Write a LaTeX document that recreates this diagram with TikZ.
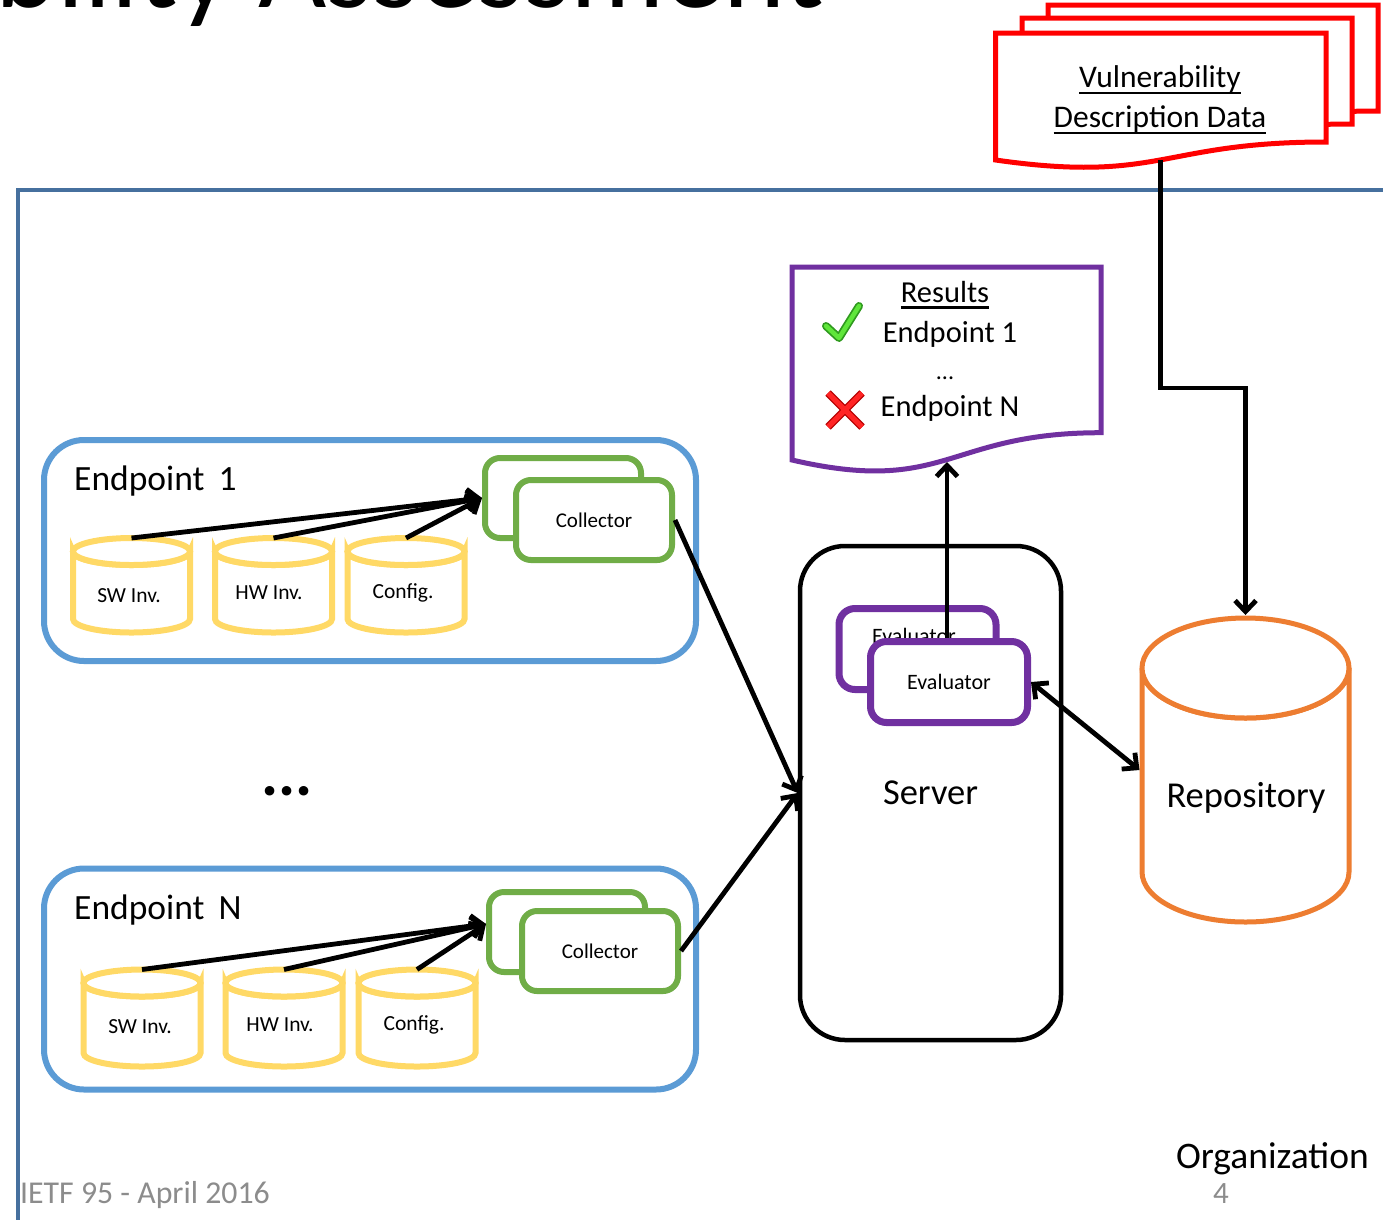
\documentclass[tikz,border=0pt]{standalone}
\usepackage{fontspec}
\setmainfont{Carlito}
\usetikzlibrary{arrows.meta}

\definecolor{epblue}{HTML}{5B9BD5}
\definecolor{collgreen}{HTML}{70AD47}
\definecolor{dbyellow}{HTML}{FFD966}
\definecolor{repoorange}{HTML}{ED7D31}
\definecolor{evpurple}{HTML}{7030A0}
\definecolor{orgframe}{HTML}{46709E}
\definecolor{footgray}{HTML}{8C8C8C}
\definecolor{okgreen}{HTML}{5FE63A}
\definecolor{okdark}{HTML}{2F9A1E}
\definecolor{badred}{HTML}{FF2424}
\definecolor{baddark}{HTML}{B40000}

% underlined label with a rule that scales with the picture
\newcommand\ulin[1]{\setbox0\hbox{#1}\rlap{\rule[-6pt]{\wd0}{2.2pt}}\box0}

% cylinder: name, cx, y of top ellipse, y of bottom ellipse, rx, ry, style
\newcommand\drum[7]{%
  \path[#7] (#2-#5,#3) -- (#2-#5,#4)
    arc[start angle=180,end angle=0,x radius=#5,y radius=#6]
    -- (#2+#5,#3)
    arc[start angle=0,end angle=180,x radius=#5,y radius=#6] -- cycle;
  \path[#7] (#2,#3) ellipse[x radius=#5,y radius=#6];
  \coordinate (#1) at (#2,#3-#6);
}

\tikzset{
  conn/.style={draw=black, line width=4.8pt},
  >={Straight Barb[length=11pt,width=21pt]},
  epbox/.style={draw=epblue, line width=6pt, rounded corners=40pt,
    minimum width=652pt, minimum height=221pt, inner sep=0pt},
  eplabel/.style={anchor=base west, inner sep=0pt, font=\fontsize{35.5}{40}\selectfont},
  collbox/.style={draw=collgreen, fill=white, line width=6pt, rounded corners=15pt,
    minimum width=156pt, minimum height=80pt, inner sep=0pt,
    font=\fontsize{21}{25}\selectfont},
  evbox/.style={draw=evpurple, fill=white, line width=7pt, rounded corners=16pt,
    minimum width=157pt, minimum height=81pt, inner sep=0pt,
    font=\fontsize{22}{25}\selectfont},
  dbline/.style={draw=dbyellow, fill=white, line width=6pt},
  dbtext/.style={font=\fontsize{21.5}{24}\selectfont},
  docline/.style={line width=5pt, fill=white, line join=miter},
  bigtext/.style={font=\fontsize{36.5}{42}\selectfont},
  doctext/.style={font=\fontsize{30.5}{36}\selectfont},
}

\begin{document}
\begin{tikzpicture}[x=1pt,y=-1pt]
\path[use as bounding box, clip] (0,0) rectangle (1383,1219);
\fill[white] (0,0) rectangle (1383,1219);

% heading, cut by the top edge
\node[anchor=base east, inner sep=0pt, font=\fontsize{118}{130}\selectfont] (heading) at (824,7) {Vulnerability Assessment};

% organization frame
\draw[orgframe, line width=4pt] (18,1230) -- (18,190) -- (1395,190);

% vulnerability description data (stack of documents)
\path[docline, draw=red] (1048,5) -- (1378,5) -- (1378,111) .. controls (1213,111) and (1213,151) .. (1048,128) -- cycle;
\path[docline, draw=red] (1022,18) -- (1352,18) -- (1352,124) .. controls (1187,124) and (1187,164) .. (1022,141) -- cycle;
\path[docline, draw=red] (995.5,33) -- (1326,33) -- (1326,142) .. controls (1160.75,142) and (1160.75,183.6) .. (995.5,160) -- cycle;
\node[doctext, font=\fontsize{31.5}{36}\selectfont] (vddA) at (1160,80) {\ulin{Vulnerability}};
\node[doctext, font=\fontsize{31.5}{36}\selectfont] (vddB) at (1160,120) {\ulin{Description Data}};
\coordinate (vddbot) at (1160.75,160);

% results document
\path[docline, draw=evpurple] (792,267) -- (1101,267) -- (1101,432.7) .. controls (946.5,432.7) and (946.5,495.7) .. (792,460) -- cycle;
\coordinate (resbot) at (946.5,462);
\node[doctext] (resT) at (945,295) {\ulin{Results}};
\node[doctext] (res1) at (950,334) {Endpoint 1};
\node[doctext, font=\fontsize{24}{28}\selectfont] (resdots) at (945,378) {...};
\node[doctext] (resN) at (950,408) {Endpoint N};
% check mark and cross
\draw[okdark, line width=8pt, line cap=round, line join=round] (826,326) -- (839,338) -- (859,306);
\draw[okgreen, line width=4.5pt, line cap=round, line join=round] (826,326) -- (839,338) -- (859,306);
\draw[baddark, line width=7.5pt] (828,393) -- (862,427) (862,393) -- (828,427);
\draw[badred, line width=5pt] (828,393) -- (862,427) (862,393) -- (828,427);

% endpoints
\node[epbox] (ep1) at (370,550.5) {};
\node[eplabel] (ep1lbl) at (74,490) {Endpoint\hspace{0.4em}1};
\node[epbox] (epN) at (370,979) {};
\node[eplabel] (epNlbl) at (74,919) {Endpoint\hspace{0.4em}N};

\node[font=\bfseries\fontsize{64}{70}\selectfont] (gap) at (287,791) {...};

% endpoint 1 data stores and collector
\drum{sw1}{131.5}{551.5}{619}{58.5}{13.5}{dbline}
\drum{hw1}{273.5}{551.5}{619}{58.5}{13.5}{dbline}
\drum{cf1}{406}{551.5}{619}{58.5}{13.5}{dbline}
\node[dbtext] (sw1t) at (129,596) {SW Inv.};
\node[dbtext] (hw1t) at (269,593) {HW Inv.};
\node[dbtext] (cf1t) at (403,593) {Config.};
\node[collbox] (c1b) at (563,498) {};
\node[collbox] (c1) at (594,520) {Collector};
\draw[conn, ->] (sw1) -- (c1b.west);
\draw[conn, ->] (hw1) -- (c1b.west);
\draw[conn, ->] (cf1) -- (c1b.west);

% endpoint N data stores and collector
\drum{swN}{142}{983}{1053}{58.5}{13.5}{dbline}
\drum{hwN}{284}{983}{1053}{58.5}{13.5}{dbline}
\drum{cfN}{417}{983}{1053}{58.5}{13.5}{dbline}
\node[dbtext] (swNt) at (140,1027) {SW Inv.};
\node[dbtext] (hwNt) at (280,1025) {HW Inv.};
\node[dbtext] (cfNt) at (414,1025) {Config.};
\node[collbox] (c2b) at (567,932) {};
\node[collbox] (c2) at (600,951) {Collector};
\draw[conn, ->] (swN) -- ([yshift=8pt]c2b.west);
\draw[conn, ->] (hwN) -- ([yshift=8pt]c2b.west);
\draw[conn, ->] (cfN) -- ([yshift=8pt]c2b.west);

% server with evaluators
\node[draw=black, line width=4.5pt, rounded corners=45pt, minimum width=261pt,
  minimum height=494pt, inner sep=0pt, bigtext] (srv) at (930.5,793) {Server};
\node[evbox] (evb) at (917.5,649) {};
\node[font=\fontsize{22}{25}\selectfont] (evbt) at (914,636) {Evaluator};
\node[evbox] (ev) at (949,682) {Evaluator};

% repository
\drum{repotop}{1245.5}{668}{872}{103.5}{50}{draw=repoorange, fill=white, line width=5pt}
\node[minimum width=212pt, minimum height=310pt, inner sep=0pt, outer sep=0pt] (repo) at (1245.5,770) {};
\node[bigtext] (repolbl) at (1246,798) {Repository};

% data flow
\draw[conn, ->] (c1.east) -- (srv.west);
\draw[conn, ->] (c2.east) -- (srv.west);
\draw[conn, ->] ([xshift=-2pt]ev.north) -- ([xshift=-2pt]ev.north |- resbot);
\draw[conn, <->] (ev.east) -- (repo.west);
\coordinate (bend) at (1160.75,388);
\draw[conn, ->] (vddbot) -- (bend) -| (repo.north);

% footer
\node[anchor=base east, inner sep=0pt, font=\fontsize{37.5}{42}\selectfont] (org) at (1369,1168) {Organization};
\node[anchor=base west, inner sep=0pt, text=footgray, font=\fontsize{31.8}{36}\selectfont] (foot) at (20,1203) {IETF 95 - April 2016};
\node[anchor=base, inner sep=0pt, text=footgray, font=\fontsize{31}{36}\selectfont] (pageno) at (1221,1203) {4};
\end{tikzpicture}
\end{document}
